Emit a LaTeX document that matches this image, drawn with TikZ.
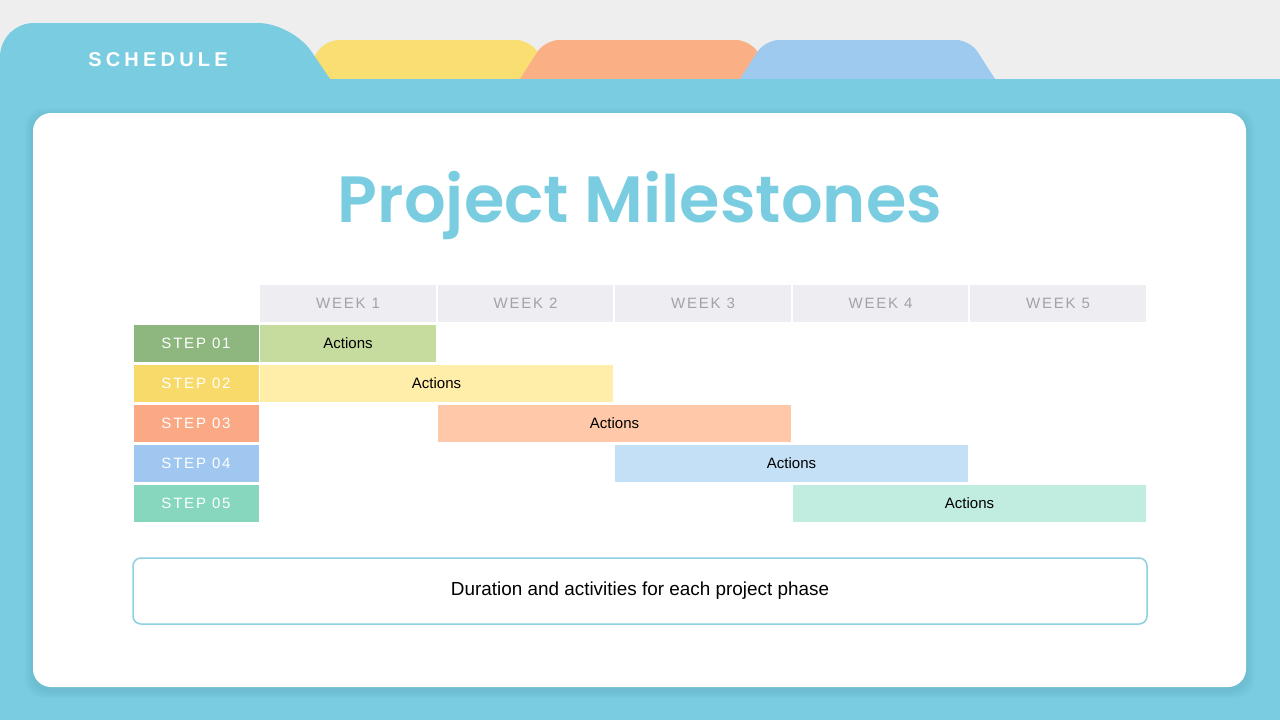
\documentclass[tikz,border=0pt]{standalone}
\usepackage{fontspec}
\setmainfont{Liberation Sans}
\newfontfamily\titlefont{Poppins SemiBold}
\newfontfamily\spacedfont{Liberation Sans}[LetterSpace=12]
\newfontfamily\schedfont{Liberation Sans}[LetterSpace=21]
\definecolor{bggray}{HTML}{EEEEEE}
\definecolor{tealmain}{HTML}{7ACDE0}
\definecolor{tabyellow}{HTML}{F9DE72}
\definecolor{taborange}{HTML}{FBAF85}
\definecolor{tabblue}{HTML}{9FCAF0}
\definecolor{hdrgray}{HTML}{EEEDF1}
\definecolor{hdrtext}{HTML}{A2A2A8}
\definecolor{stepA}{HTML}{8DB77E}
\definecolor{stepB}{HTML}{F8DA6A}
\definecolor{stepC}{HTML}{FBA985}
\definecolor{stepD}{HTML}{9FC7F0}
\definecolor{stepE}{HTML}{86D7BE}
\definecolor{barA}{HTML}{C5DC9E}
\definecolor{barB}{HTML}{FFEDAA}
\definecolor{barC}{HTML}{FFC8A8}
\definecolor{barD}{HTML}{C4E0F6}
\definecolor{barE}{HTML}{C1EDE0}
\definecolor{descline}{HTML}{8DD0E2}
\definecolor{shadowcol}{HTML}{5FA9BC}
\tikzset{
  hdrbox/.style={fill=hdrgray, minimum width=175.5pt, minimum height=37pt, inner sep=0pt, outer sep=0pt,
    text=hdrtext, font=\spacedfont\fontsize{15}{18}\selectfont},
  stepbox/.style={fill=#1, minimum width=125pt, minimum height=37pt, inner sep=0pt, outer sep=0pt,
    text=white, font=\spacedfont\fontsize{15}{18}\selectfont},
  barbox/.style={fill=#1, minimum height=37pt, inner sep=0pt, outer sep=0pt,
    text=black, font=\fontsize{15}{18}\selectfont},
  descbox/.style={draw=descline, line width=1.5pt, rounded corners=8pt, fill=white,
    minimum width=1014pt, minimum height=66pt, inner sep=0pt, font=\fontsize{18.9}{22}\selectfont}
}
\begin{document}
\begin{tikzpicture}[x=1pt,y=-1pt]
\useasboundingbox (0,0) rectangle (1280,720);
\fill[bggray] (0,0) rectangle (1280,720);
% back tabs
\fill[tabyellow, rounded corners=14] (286.5,100) -- (325,40) -- (530,40) -- (568.5,100) -- cycle;
\fill[taborange, rounded corners=14] (506.5,100) -- (545,40) -- (750,40) -- (788.5,100) -- cycle;
\fill[tabblue, rounded corners=14] (726.5,100) -- (765,40) -- (970,40) -- (1008.5,100) -- cycle;
% main tab
\fill[tealmain, rounded corners=34] (0,140) -- (0,23) -- (292,23) -- (358,120) -- (358,140) -- cycle;
\fill[tealmain] (0,79) rectangle (1280,720);
\node[text=white, font=\schedfont\bfseries\fontsize{20}{24}\selectfont] (sched) at (158,60) {SCHEDULE};
% card shadow
\foreach \k in {1,...,8}{
  \fill[shadowcol, opacity=0.05, rounded corners=18] (33-\k,113-\k+3) rectangle (1246+\k,687+\k+3);
}
\fill[white, rounded corners=18] (33,113) rectangle (1246,687);
% title
\node[text=tealmain, anchor=base, inner sep=0pt] (title) at (640,222)
  {\resizebox{604pt}{!}{\titlefont\fontsize{72}{80}\selectfont Project Milestones}};
% header
\node[hdrbox] (w1) at (348,303.5) {WEEK 1};
\node[hdrbox] (w2) at (525.5,303.5) {WEEK 2};
\node[hdrbox] (w3) at (703,303.5) {WEEK 3};
\node[hdrbox] (w4) at (880.5,303.5) {WEEK 4};
\node[hdrbox] (w5) at (1058,303.5) {WEEK 5};
% steps
\node[stepbox=stepA] (s1) at (196,343.5) {STEP 01};
\node[stepbox=stepB] (s2) at (196,383.5) {STEP 02};
\node[stepbox=stepC] (s3) at (196,423.5) {STEP 03};
\node[stepbox=stepD] (s4) at (196,463.5) {STEP 04};
\node[stepbox=stepE] (s5) at (196,503.5) {STEP 05};
% bars
\node[barbox=barA, minimum width=176pt] (b1) at (348,343.5) {Actions};
\node[barbox=barB, minimum width=353pt] (b2) at (436.5,383.5) {Actions};
\node[barbox=barC, minimum width=353pt] (b3) at (614.5,423.5) {Actions};
\node[barbox=barD, minimum width=353pt] (b4) at (791.5,463.5) {Actions};
\node[barbox=barE, minimum width=353pt] (b5) at (969.5,503.5) {Actions};
% description
\node[descbox] (desc) at (640,591) {\raisebox{-1.5pt}{Duration and activities for each project phase}};
\end{tikzpicture}
\end{document}
